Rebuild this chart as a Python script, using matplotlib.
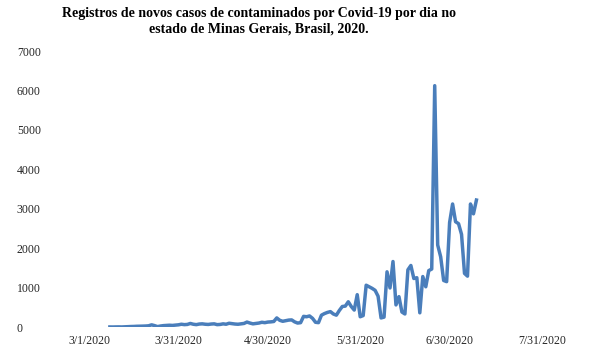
import matplotlib
matplotlib.use("Agg")
import matplotlib.pyplot as plt
import pandas as pd

# daily new cases, Minas Gerais, 3/8/2020 .. 7/9/2020
start_date = "2020-03-08"
new_cases = [
    1, 0, 2, 3, 1, 5, 8, 12, 14, 18, 20, 22, 25, 30,
    55, 35, 10, 25, 35, 40, 45, 40, 48, 55,
    70, 60, 65, 90, 70, 60, 75, 80, 70, 65,
    75, 80, 60, 65, 80, 70, 95, 85, 75, 70,
    80, 90, 125, 100, 80, 90, 100, 120, 110, 125,
    130, 140, 230, 170, 145, 160, 175, 180, 130, 100,
    110, 270, 260, 280, 220, 120, 110, 300, 340, 370,
    390, 330, 300, 420, 520, 530, 640, 520, 430, 820,
    260, 290, 1060, 1020, 980, 930, 780, 230, 250, 1400,
    990, 1660, 560, 770, 380, 330, 1450, 1560, 1230, 1250,
    360, 1280, 1020, 1430, 1470, 6120, 2080, 1780, 1180, 1150,
    2650, 3120, 2670, 2620, 2350, 1360, 1290, 3120, 2870, 3220,
]
x_ticks = ["2020-03-01", "2020-03-31", "2020-04-30", "2020-05-31", "2020-06-30", "2020-07-31"]
x_labels = ["3/1/2020", "3/31/2020", "4/30/2020", "5/31/2020", "6/30/2020", "7/31/2020"]
y_ticks = [0, 1000, 2000, 3000, 4000, 5000, 6000, 7000]

title = ("Registros de novos casos de contaminados por Covid-19 por dia no\n"
         "estado de Minas Gerais, Brasil, 2020.")

plt.rcParams["font.family"] = ["Liberation Serif", "DejaVu Serif"]

dates = pd.date_range(start_date, periods=len(new_cases), freq="D")
tick_pos = pd.to_datetime(x_ticks)

fig = plt.figure(figsize=(6, 3.6), dpi=100)
ax = fig.add_axes([89 / 600, 1 - 327 / 360, (542 - 89) / 600, (327 - 51) / 360])

ax.plot(dates, new_cases, color="#4A7EBB", lw=2.5, solid_joinstyle="round")

ax.set_xlim(tick_pos[0], tick_pos[-1])
ax.set_ylim(0, 7000)
ax.set_xticks(tick_pos)
ax.set_xticklabels(x_labels)
ax.set_yticks(y_ticks)
ax.set_yticklabels([str(v) for v in y_ticks], ha="left")

ax.tick_params(axis="x", length=0, pad=6, labelsize=8.5, labelcolor="#262626")
ax.tick_params(axis="y", length=0, pad=52, labelsize=8.5, labelcolor="#262626")
for s in ax.spines.values():
    s.set_visible(False)

fig.text(259 / 600, 1 - 21 / 360, title, ha="center", va="center",
         fontsize=10, fontweight="bold", linespacing=1.3)

fig.savefig("out.png", dpi=100)
